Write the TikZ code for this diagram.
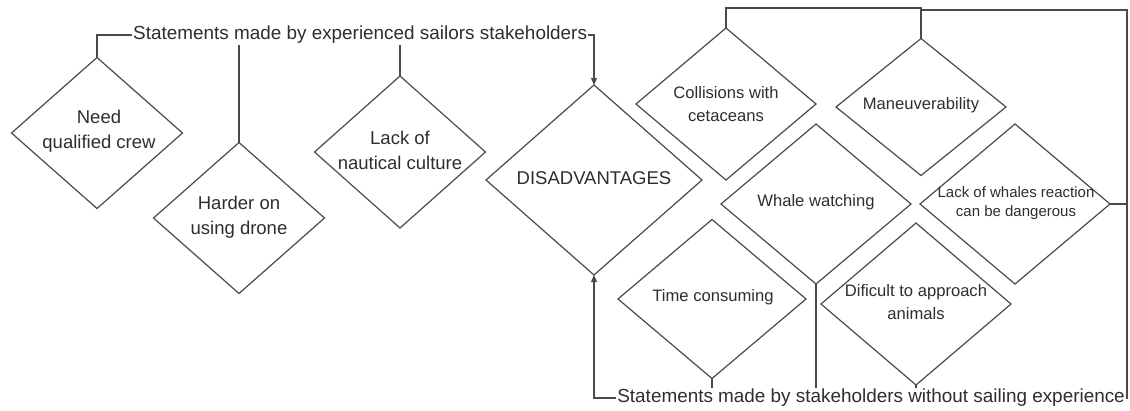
\documentclass[tikz,border=0pt]{standalone}
\usepackage{fontspec}
\setmainfont{Liberation Sans}
\usetikzlibrary{shapes.geometric,arrows.meta}
\definecolor{ln}{HTML}{4A4A4A}
\definecolor{tx}{HTML}{2E2E2E}
\begin{document}
\begin{tikzpicture}[x=1pt,y=-1pt,
  dia/.style={draw=ln, line width=1.2pt, shape=diamond, inner sep=0pt, outer sep=0pt},
  big/.style={text=tx, align=center, font=\fontsize{18.5}{25}\selectfont, inner sep=0pt},
  mid/.style={text=tx, align=center, font=\fontsize{16.6}{23}\selectfont, inner sep=0pt},
  sml/.style={text=tx, align=center, font=\fontsize{15}{19}\selectfont, inner sep=0pt},
  lab/.style={text=tx, font=\fontsize{18.9}{23}\selectfont, inner sep=1pt},
  con/.style={draw=ln, line width=1.2pt},
  arr/.style={con, -{Triangle[length=7pt,width=6pt]}}]

\path[use as bounding box, fill=white] (0,0) rectangle (1130,410);

% diamonds
\node[dia, minimum width=171pt, minimum height=151pt] (need) at (97,133) {};
\node[big] (needT) at (99,131) {Need\\qualified crew};
\node[dia, minimum width=171pt, minimum height=151pt] (harder) at (239,218) {};
\node[big] (harderT) at (239,217) {Harder on\\using drone};
\node[dia, minimum width=171pt, minimum height=152pt] (lack) at (400,152) {};
\node[big] (lackT) at (400,150) {Lack of\\nautical culture};
\node[dia, minimum width=216pt, minimum height=190pt] (dis) at (594,180) {};
\node[big] (disT) at (594,178) {DISADVANTAGES};
\node[dia, minimum width=180pt, minimum height=152pt] (coll) at (726,104) {};
\node[mid] (collT) at (726,104) {Collisions with\\cetaceans};
\node[dia, minimum width=170pt, minimum height=137pt] (man) at (921,107) {};
\node[mid] (manT) at (921,105) {Maneuverability};
\node[dia, minimum width=190pt, minimum height=160pt] (whale) at (816,204) {};
\node[mid] (whaleT) at (816,202) {Whale watching};
\node[dia, minimum width=190pt, minimum height=160pt] (lw) at (1015,204) {};
\node[sml] (lwT) at (1016,203) {Lack of whales reaction\\can be dangerous};
\node[dia, minimum width=188pt, minimum height=159pt] (time) at (712,299) {};
\node[mid] (timeT) at (713,297) {Time consuming};
\node[dia, minimum width=190pt, minimum height=162pt] (dif) at (916,304) {};
\node[mid] (difT) at (916,302) {Dificult to approach\\animals};

% group labels
\node[lab, anchor=west] (topL) at (132,35) {Statements made by experienced sailors stakeholders};
\node[lab, anchor=east] (botL) at (1126,398) {Statements made by stakeholders without sailing experience};

% upper connectors
\draw[con] (topL.west) -| (need.north);
\draw[arr] (topL.east) -| (dis.north);
\draw[con] (harder.north |- topL.south) -- (harder.north);
\draw[con] (lack.north |- topL.south) -- (lack.north);

% right-hand group
\coordinate (tl) at (726,8);
\coordinate (tr) at (1127,10);
\draw[con] (coll.north) -- (coll.north |- tl) -| (man.north);
\draw[con] (lw.east) -| (tr) -- (tr -| man.north);
\draw[con] (botL.east) -| (tr);

% lower connectors
\draw[arr] (botL.west) -| (dis.south);
\draw[con] (time.south) -- (time.south |- botL.north);
\draw[con] (whale.south) -- (whale.south |- botL.north);
\draw[con] (dif.south) -- (dif.south |- botL.north);
\end{tikzpicture}
\end{document}
